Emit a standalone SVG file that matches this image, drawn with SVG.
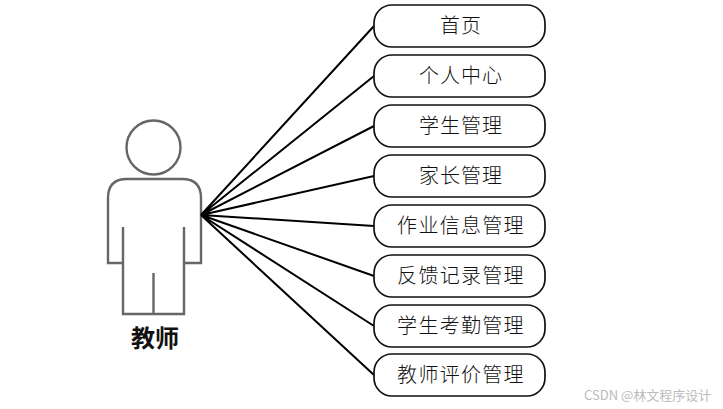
<svg xmlns="http://www.w3.org/2000/svg" width="723" height="409" viewBox="0 0 723 409">
<style>
.box{fill:#fff;stroke:#111;stroke-width:1.7}
.lbl{font-family:"Noto Sans CJK SC","Noto Sans CJK JP",serif;font-size:20px;font-weight:300;fill:#111;text-anchor:middle}
.conn{stroke:#000;stroke-width:2;fill:none}
.fig{fill:none;stroke:#666;stroke-width:2.4}
</style>
<rect width="723" height="409" fill="#fff"/>
<g id="actor">
<circle class="fig" cx="153.500" cy="147.500" r="27"/>
<path class="fig" d="M201 214V198Q201 179 182 179H127Q108 179 108 198V263H123V227M123 263V314H184V227M184 263H201V214M153.500 273V314"/>
<text x="155" y="347" style="font-family:'Noto Sans CJK SC',serif;font-size:24px;font-weight:700;fill:#111;text-anchor:middle">教师</text>
</g>
<g id="connectors">
<path class="conn" d="M201 215L374 26M201 215L374 76M201 215L374 126M201 215L374 176M201 215L374 226M201 215L374 276M201 215L374 326M201 215L374 375"/>
</g>
<g id="n1"><rect class="box" x="374" y="5" width="171" height="42" rx="18"/><text class="lbl" x="461" y="33" letter-spacing="1">首页</text></g>
<g id="n2"><rect class="box" x="374" y="55" width="171" height="42" rx="18"/><text class="lbl" x="461" y="83" letter-spacing="1">个人中心</text></g>
<g id="n3"><rect class="box" x="374" y="105" width="171" height="42" rx="18"/><text class="lbl" x="461" y="133" letter-spacing="1">学生管理</text></g>
<g id="n4"><rect class="box" x="374" y="155" width="171" height="42" rx="18"/><text class="lbl" x="461" y="183" letter-spacing="1">家长管理</text></g>
<g id="n5"><rect class="box" x="374" y="205" width="171" height="42" rx="18"/><text class="lbl" x="461" y="233" letter-spacing="1.300">作业信息管理</text></g>
<g id="n6"><rect class="box" x="374" y="255" width="171" height="42" rx="18"/><text class="lbl" x="461" y="283" letter-spacing="1.300">反馈记录管理</text></g>
<g id="n7"><rect class="box" x="374" y="305" width="171" height="42" rx="18"/><text class="lbl" x="461" y="333" letter-spacing="1.300">学生考勤管理</text></g>
<g id="n8"><rect class="box" x="374" y="354" width="171" height="42" rx="18"/><text class="lbl" x="461" y="382" letter-spacing="1.300">教师评价管理</text></g>
<text x="584" y="400" style="font-family:'Noto Sans CJK SC',sans-serif;font-size:13px;fill:#bbb">CSDN @林文程序设计</text>
</svg>
